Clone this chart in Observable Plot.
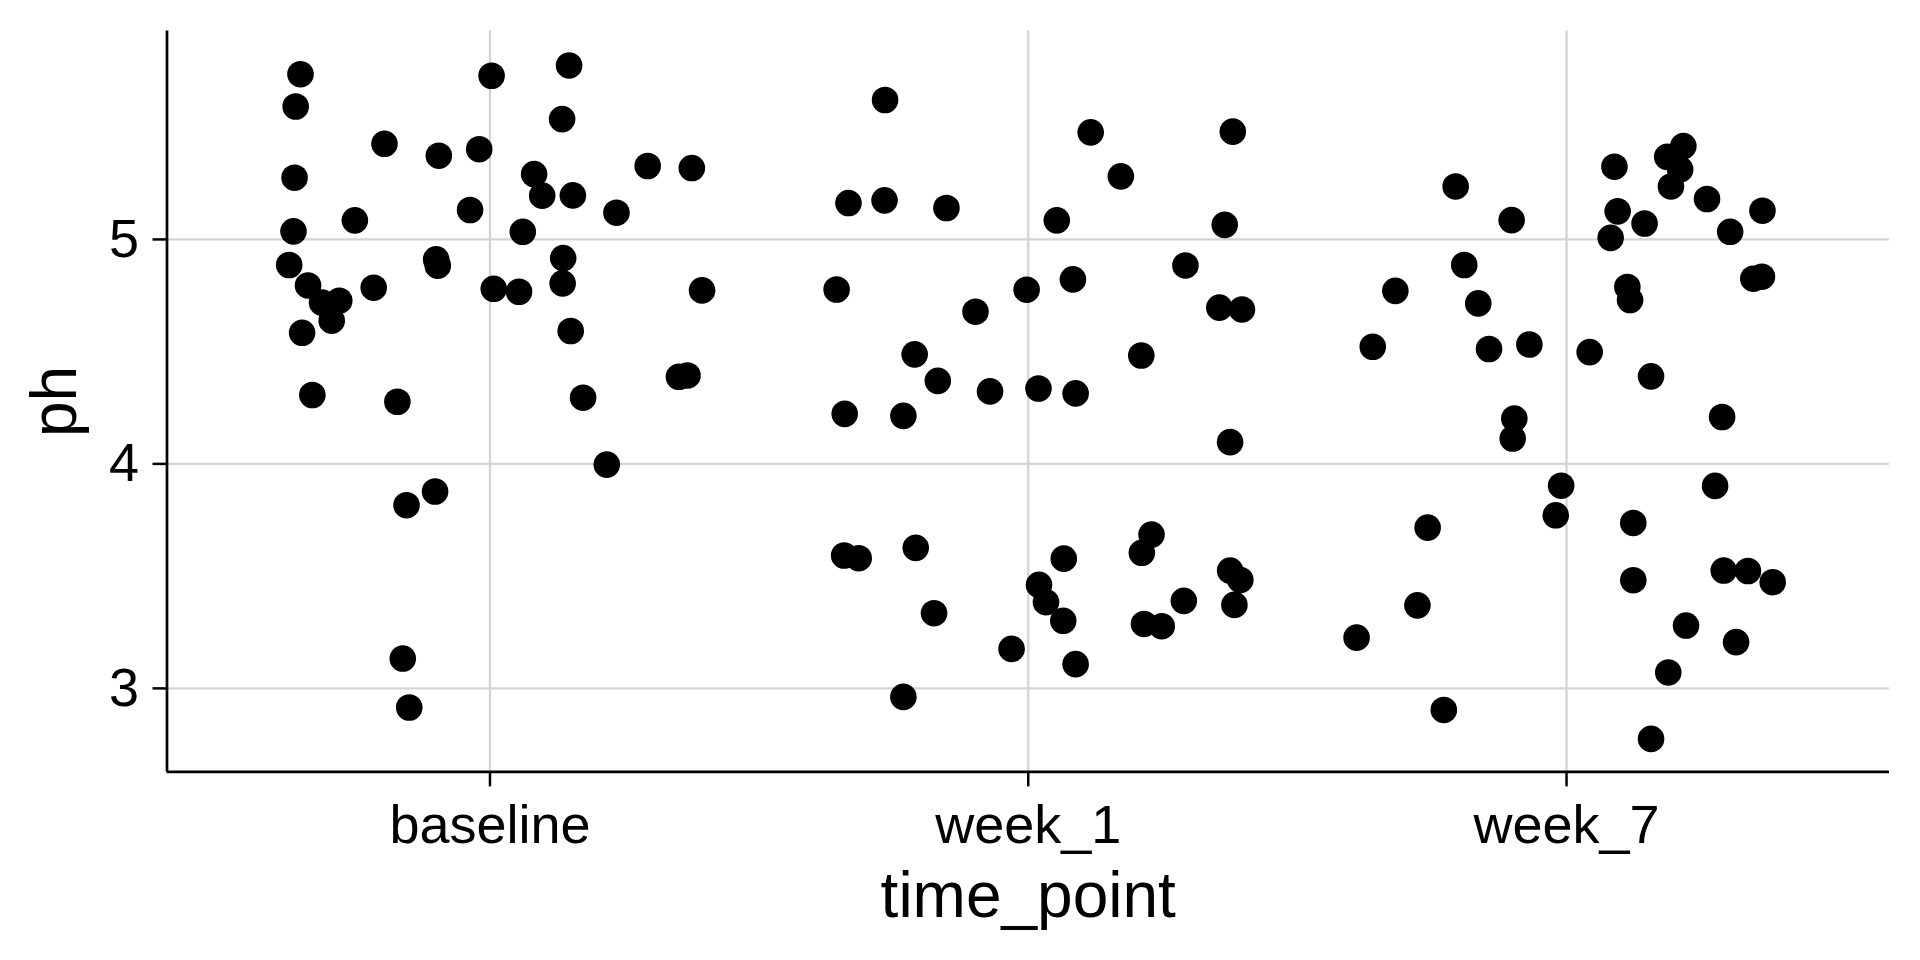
<!DOCTYPE html>
<html>
<head>
<meta charset="utf-8">
<script src="https://cdn.jsdelivr.net/npm/d3@7"></script>
<script src="https://cdn.jsdelivr.net/npm/@observablehq/plot@0.6"></script>
<style>
  html, body { margin: 0; padding: 0; background: #ffffff; }
  #chart svg { display: block; }
</style>
</head>
<body>
<div id="chart"></div>
<script>
// ---- data ----
const categories = ["baseline", "week_1", "week_7"];
const yTicks = [3, 4, 5];
const xTitle = "time_point";
const yTitle = "ph";

const baselinePh = [5.736,5.592,5.426,5.373,5.402,5.729,5.775,5.536,5.275,5.085,5.131,5.291,5.195,5.196,5.119,5.327,5.318,5.036,5.034,4.886,4.911,4.883,4.795,4.719,4.727,4.638,4.785,4.780,4.767,4.917,4.804,4.773,4.584,4.592,4.307,4.277,4.295,4.388,4.394,3.997,3.877,3.816,3.133,2.915];
const baselineJitter = [-0.352,-0.361,-0.196,-0.095,-0.020,0.003,0.147,0.134,-0.363,-0.251,-0.037,0.082,0.097,0.154,0.235,0.293,0.375,-0.365,0.061,-0.373,-0.100,-0.097,-0.338,-0.312,-0.280,-0.294,-0.216,0.007,0.054,0.136,0.135,0.394,-0.349,0.150,-0.330,-0.172,0.173,0.351,0.367,0.217,-0.102,-0.155,-0.162,-0.150];

const week1Ph = [5.621,5.477,5.480,5.281,5.162,5.174,5.140,5.085,5.065,4.884,4.777,4.776,4.822,4.678,4.696,4.688,4.488,4.483,4.370,4.323,4.336,4.314,4.223,4.214,4.097,3.592,3.580,3.626,3.578,3.685,3.604,3.525,3.483,3.372,3.461,3.384,3.301,3.390,3.287,3.277,3.335,3.176,3.108,2.962];
const week1Jitter = [-0.266,0.116,0.380,0.172,-0.334,-0.267,-0.152,0.053,0.365,0.292,-0.356,-0.003,0.083,-0.098,0.355,0.397,-0.211,0.210,-0.168,-0.071,0.019,0.088,-0.341,-0.232,0.375,-0.342,-0.315,-0.209,0.066,0.229,0.211,0.375,0.394,0.383,0.020,0.033,0.065,0.289,0.215,0.248,-0.175,-0.031,0.088,-0.232];

const week7Ph = [5.236,5.086,5.324,5.416,5.368,5.312,5.236,5.125,5.071,5.007,5.180,5.128,5.034,4.886,4.771,4.715,4.788,4.730,4.825,4.834,4.522,4.512,4.532,4.498,4.390,4.202,4.113,4.209,3.903,3.771,3.902,3.716,3.737,3.482,3.525,3.523,3.473,3.370,3.226,3.280,3.206,3.071,2.904,2.775];
const week7Jitter = [-0.206,-0.102,0.089,0.217,0.187,0.211,0.194,0.095,0.145,0.082,0.261,0.364,0.304,-0.190,-0.318,-0.164,0.113,0.118,0.347,0.363,-0.360,-0.144,-0.069,0.043,0.157,-0.097,-0.100,0.289,-0.010,-0.020,0.276,-0.258,0.124,0.124,0.292,0.337,0.383,-0.277,-0.390,0.222,0.315,0.189,-0.228,0.157];

// ---- build table ----
const phByGroup = [baselinePh, week1Ph, week7Ph];
const jitterByGroup = [baselineJitter, week1Jitter, week7Jitter];
const rows = [];
categories.forEach((c, i) => {
  phByGroup[i].forEach((v, k) => {
    rows.push({time_point: c, pos: i + 1 + jitterByGroup[i][k], ph: v});
  });
});

const xDomain = [0.4, categories.length + 0.6];
const yDomain = [2.628, 5.928];
const tickIdx = categories.map((c, i) => i + 1);
const font = "'Liberation Sans', Arial, Helvetica, sans-serif";

const chart = Plot.plot({
  width: 1920,
  height: 960,
  marginLeft: 166.5,
  marginRight: 31,
  marginTop: 30.6,
  marginBottom: 188.6,
  style: {fontFamily: font, fontSize: "54px", background: "#ffffff", color: "#000000"},
  x: {domain: xDomain, axis: null},
  y: {domain: yDomain, axis: null},
  marks: [
    Plot.gridX(tickIdx, {stroke: "#d4d4d4", strokeOpacity: 1, strokeWidth: 2.3}),
    Plot.gridY(yTicks, {stroke: "#d4d4d4", strokeOpacity: 1, strokeWidth: 2.3}),
    Plot.ruleX([xDomain[0]], {stroke: "#000", strokeWidth: 2.7}),
    Plot.ruleY([yDomain[0]], {stroke: "#000", strokeWidth: 2.7}),
    Plot.axisX({
      ticks: tickIdx,
      tickFormat: d => categories[d - 1],
      tickSize: 15,
      tickPadding: 18,
      strokeWidth: 2.5,
      fontSize: 54,
      label: null
    }),
    Plot.axisY({
      ticks: yTicks,
      tickFormat: d => String(d),
      tickSize: 14,
      tickPadding: 14,
      strokeWidth: 2.5,
      fontSize: 54,
      label: null
    }),
    Plot.dot(rows, {x: "pos", y: "ph", r: 13.3, fill: "#000000", stroke: null}),
    Plot.text([xTitle], {
      frameAnchor: "bottom", dy: 144.6, lineAnchor: "bottom", textAnchor: "middle",
      fontSize: 64, fill: "#000", text: d => d
    }),
    Plot.text([yTitle], {
      frameAnchor: "left", dx: -91, lineAnchor: "bottom", textAnchor: "middle", rotate: -90,
      fontSize: 64, fill: "#000", text: d => d
    })
  ]
});
document.getElementById("chart").appendChild(chart);
</script>
</body>
</html>
